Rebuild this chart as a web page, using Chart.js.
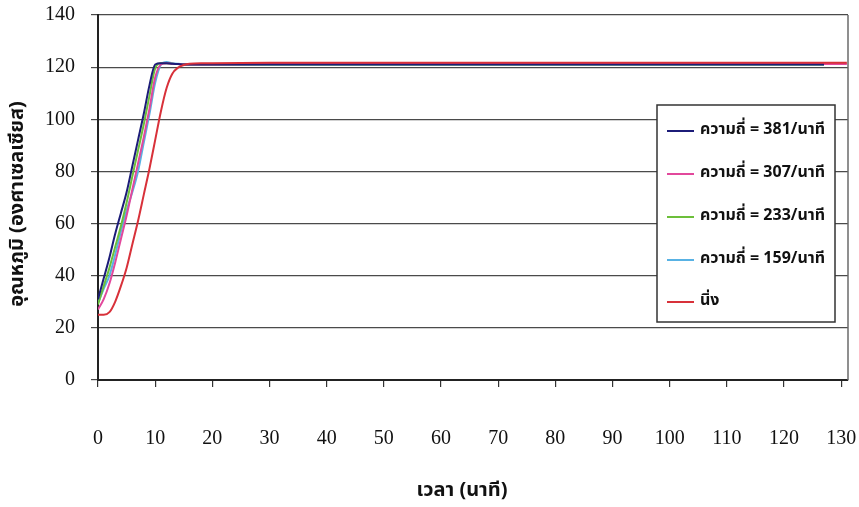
<!DOCTYPE html>
<html>
<head>
<meta charset="utf-8">
<script src="https://cdn.jsdelivr.net/npm/chart.js@4/dist/chart.umd.min.js"></script>
<style>
  html, body { margin: 0; padding: 0; background: #ffffff; }
  #wrap { width: 859px; height: 507px; position: relative; }
</style>
</head>
<body>
<div id="wrap"><canvas id="c" width="859" height="507"></canvas></div>
<script>
// Time axis (minutes) shared by all series
const minutes = [0, 1, 2, 3, 4, 5, 6, 7, 8, 9, 10, 11, 12, 13, 14, 15, 16, 18, 20,
                 30, 40, 50, 60, 70, 80, 90, 100, 110, 120, 127, 131];

// Temperature (°C) for each shaking frequency and the static case
const freq381 = [31, 39, 47, 56, 64, 72, 82, 92, 102, 113, 121, 121.5, 121.5, 121.3, 121.2, 121, 121, 121, 121,
                 121, 121, 121, 121, 121, 121, 121, 121, 121, 121, 121, null];
const freq307 = [27, 31, 37, 45, 54, 63, 73, 83, 93, 104, 116, 121, 121.5, 121.3, 121.2, 121, 121, 121, 121,
                 121.2, 121.2, 121.2, 121.2, 121.2, 121.2, 121.2, 121.2, 121.2, 121.2, 121.2, 121.2];
const freq233 = [29, 36, 43, 51, 59, 68, 78, 88, 98, 109, 119.5, 121.5, 121.5, 121.3, 121.2, 121, 121, 121, 121,
                 121, 121, 121, 121, 121, 121, 121, 121, 121, 121, 121, null];
const freq159 = [29.5, 35, 40, 48, 57, 65, 72, 80, 91, 102, 114, 121, 122, 121.5, 121.3, 121.2, 121, 121, 121,
                 121, 121, 121, 121, 121, 121, 121, 121, 121, 121, 121, null];
const staticRun = [25, 25, 26, 30, 36, 43, 52, 61, 71, 81, 92, 103, 112, 117.5, 119.8, 120.8, 121.3, 121.5, 121.5,
                   121.7, 121.7, 121.7, 121.7, 121.7, 121.7, 121.7, 121.7, 121.7, 121.7, 121.7, 121.7];

const seriesLabels = ['ความถี่ = 381/นาที', 'ความถี่ = 307/นาที', 'ความถี่ = 233/นาที', 'ความถี่ = 159/นาที', 'นิ่ง'];
const seriesColors = ['#1c1c78', '#e2489c', '#6cbf3a', '#58b2e4', '#d8313a'];
const seriesValues = [freq381, freq307, freq233, freq159, staticRun];

const yTicks = [0, 20, 40, 60, 80, 100, 120, 140];

const xTitle = 'เวลา (นาที)';
const yTitle = 'อุณหภูมิ (องศาเซลเซียส)';

const thaiFont = "'Noto Sans Thai', 'Noto Sans', 'DejaVu Sans', sans-serif";
const numFont = "'Liberation Serif', 'DejaVu Serif', serif";

const datasets = seriesValues.map((vals, i) => ({
  label: seriesLabels[i],
  data: minutes.map((t, k) => ({ x: t, y: vals[k] })),
  borderColor: seriesColors[i],
  backgroundColor: seriesColors[i],
  borderWidth: 2,
  pointRadius: 0,
  showLine: true,
  spanGaps: false,
  cubicInterpolationMode: 'monotone',
  order: i === 4 ? -1 : i
}));

// Right frame of the plot area, axis titles and the boxed legend
const framePlugin = {
  id: 'frameAndLegend',
  beforeDatasetsDraw(chart) {
    const { ctx, chartArea: a } = chart;
    ctx.save();
    ctx.strokeStyle = '#6a6a6a';
    ctx.lineWidth = 1.5;
    ctx.beginPath();
    ctx.moveTo(a.right, a.top);
    ctx.lineTo(a.right, a.bottom);
    ctx.stroke();
    ctx.restore();
  },
  afterDraw(chart) {
    const { ctx } = chart;
    ctx.save();
    // axis titles
    ctx.fillStyle = '#111111';
    ctx.font = "bold 20px " + thaiFont;
    ctx.textAlign = 'center';
    ctx.textBaseline = 'middle';
    ctx.fillText(xTitle, 462, 492);
    ctx.save();
    ctx.translate(19, 204);
    ctx.rotate(-Math.PI / 2);
    ctx.fillText(yTitle, 0, 0);
    ctx.restore();

    // legend
    const box = { x: 657, y: 105, w: 178, h: 217 };
    ctx.fillStyle = '#ffffff';
    ctx.fillRect(box.x, box.y, box.w, box.h);
    ctx.strokeStyle = '#333333';
    ctx.lineWidth = 1.5;
    ctx.strokeRect(box.x, box.y, box.w, box.h);
    const rows = [131, 174, 217, 260, 302];
    ctx.font = "bold 16px " + thaiFont;
    ctx.textBaseline = 'middle';
    ctx.textAlign = 'left';
    chart.data.datasets.forEach((ds, i) => {
      const y = rows[i];
      ctx.strokeStyle = ds.borderColor;
      ctx.lineWidth = 2;
      ctx.beginPath();
      ctx.moveTo(667, y);
      ctx.lineTo(694, y);
      ctx.stroke();
      ctx.fillStyle = '#111111';
      ctx.fillText(ds.label, 700, y);
    });
    ctx.restore();
  }
};

new Chart(document.getElementById('c'), {
  type: 'scatter',
  data: { datasets },
  options: {
    responsive: false,
    animation: false,
    layout: { padding: { top: 15, right: 11, left: 0, bottom: 0 } },
    plugins: { legend: { display: false }, tooltip: { enabled: false } },
    scales: {
      x: {
        type: 'linear',
        min: 0,
        max: 131.2,
        afterFit(scale) {
          scale.height = 127;
          scale.paddingLeft = 0;
          scale.paddingRight = 0;
        },
        ticks: {
          stepSize: 10,
          includeBounds: false,
          padding: 40,
          color: '#111111',
          font: { family: numFont, size: 20 },
          maxRotation: 0
        },
        grid: { display: true, drawOnChartArea: false, drawTicks: true, tickLength: 7, color: '#333333', lineWidth: 1.2 },
        border: { display: true, color: '#222222', width: 2 }
      },
      y: {
        min: 0,
        max: 140,
        afterFit(scale) {
          scale.width = 98;
          scale.paddingTop = 0;
          scale.paddingBottom = 0;
        },
        afterBuildTicks(scale) { scale.ticks = yTicks.map(v => ({ value: v })); },
        ticks: {
          padding: 16,
          color: '#111111',
          font: { family: numFont, size: 20 }
        },
        grid: { color: '#4a4a4a', lineWidth: 1.2, tickLength: 7, drawTicks: true },
        border: { display: true, color: '#222222', width: 2 }
      }
    }
  },
  plugins: [framePlugin]
});
</script>
</body>
</html>
